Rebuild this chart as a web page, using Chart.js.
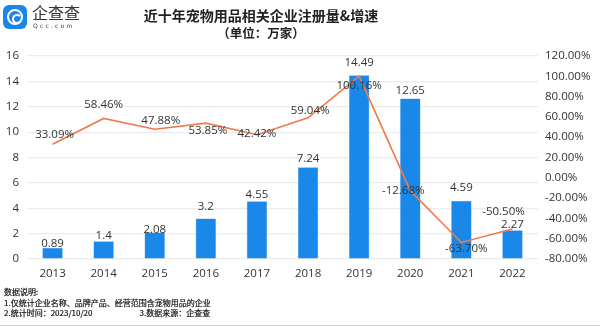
<!DOCTYPE html>
<html lang="zh-CN">
<head>
    <meta charset="UTF-8">
    <title>近十年宠物用品相关企业注册量&增速</title>
    <script src="https://cdn.jsdelivr.net/npm/chart.js"></script>
    <style>
        body {
            margin: 0;
            background: #ffffff;
            font-family: "Noto Sans CJK SC", "Noto Sans", sans-serif;
        }
        .wrap {
            position: relative;
            width: 600px;
            height: 328px;
            overflow: hidden;
        }
        canvas {
            position: absolute;
            left: 0;
            top: 0;
        }
        .logo-icon {
            position: absolute;
            left: 3px;
            top: 5px;
            width: 24px;
            height: 24px;
            border-radius: 6px;
            background: #1a86ec;
        }
        .logo-icon .ring {
            position: absolute;
            left: 4px;
            top: 4px;
            width: 12px;
            height: 12px;
            border: 2.5px solid #fff;
            border-radius: 50%;
        }
        .logo-icon .dot {
            position: absolute;
            left: 9px;
            top: 9px;
            width: 6px;
            height: 6px;
            border: 2px solid #fff;
            border-right-color: transparent;
            border-radius: 50%;
        }
        .logo-name {
            position: absolute;
            left: 32px;
            top: 3px;
            font-size: 16px;
            line-height: 18px;
            color: #333;
        }
        .logo-url {
            position: absolute;
            left: 33px;
            top: 22px;
            font-family: "DejaVu Sans", sans-serif;
            font-size: 6px;
            line-height: 7px;
            color: #444;
            letter-spacing: 2.2px;
        }
        .title {
            position: absolute;
            left: 0;
            width: 522px;
            text-align: center;
            color: #222;
            font-weight: bold;
        }
        .t1 { top: 5px; font-size: 14px; }
        .t2 { top: 23px; font-size: 12.5px; }
        .note {
            position: absolute;
            left: 4px;
            top: 287px;
            font-size: 8px;
            line-height: 10.5px;
            color: #111;
            -webkit-text-stroke: 0.2px #111;
        }
        .bottom-line {
            position: absolute;
            left: 0;
            top: 325px;
            width: 600px;
            height: 1px;
            background: #cfcfcf;
        }
    </style>
</head>
<body>
<div class="wrap">
    <canvas id="chart" width="600" height="328"></canvas>
    <div class="logo-icon"><div class="ring"></div><div class="dot"></div></div>
    <div class="logo-name">企查查</div>
    <div class="logo-url">Qcc.com</div>
    <div class="title t1">近十年宠物用品相关企业注册量&amp;增速</div>
    <div class="title t2">（单位：万家）</div>
    <div class="note">
        数据说明:<br>
        1.仅统计企业名称、品牌产品、经营范围含宠物用品的企业<br>
        2.统计时间：2023/10/20<span style="display:inline-block;width:47px"></span>3.数据来源：企查查
    </div>
    <div class="bottom-line"></div>
</div>

<script>
    // 数据
    const years = ['2013', '2014', '2015', '2016', '2017', '2018', '2019', '2020', '2021', '2022'];
    const registrations = [0.89, 1.4, 2.08, 3.2, 4.55, 7.24, 14.49, 12.65, 4.59, 2.27]; // 万家
    const growthRates = [33.09, 58.46, 47.88, 53.85, 42.42, 59.04, 100.16, -12.68, -63.70, -50.50]; // %
    const leftTicks = [0, 2, 4, 6, 8, 10, 12, 14, 16];
    const rightTicks = [-80, -60, -40, -20, 0, 20, 40, 60, 80, 100, 120];

    // 标签偏移（只是样式）
    const barLabelShift = [-3, -5, -2, -11, -6, -7, -11, -7, -12, -4];
    const lineLabelShift = [[2, -9], [0, -14], [6, -8], [2, 8], [0, -1], [2, -7], [0, 10], [-7, 0], [5, 6], [-9, -17]];

    const labelPlugin = {
        id: 'valueLabels',
        afterDatasetsDraw(chart) {
            const ctx = chart.ctx;
            ctx.save();
            ctx.font = '11.5px "Open Sans", "Noto Sans", sans-serif';
            ctx.fillStyle = '#333';
            ctx.textAlign = 'center';
            ctx.textBaseline = 'middle';
            chart.getDatasetMeta(0).data.forEach((bar, i) => {
                ctx.fillText(String(registrations[i]), bar.x, bar.y + barLabelShift[i] - 1);
            });
            chart.getDatasetMeta(1).data.forEach((pt, i) => {
                const s = lineLabelShift[i];
                ctx.fillText(growthRates[i].toFixed(2) + '%', pt.x + s[0], pt.y + s[1]);
            });
            ctx.restore();
        }
    };

    const ctx = document.getElementById('chart').getContext('2d');
    new Chart(ctx, {
        data: {
            labels: years,
            datasets: [{
                type: 'bar',
                data: registrations,
                yAxisID: 'y',
                backgroundColor: '#1a88e8',
                borderColor: '#5aa8ee',
                borderWidth: 0.5,
                barPercentage: 0.8,
                categoryPercentage: 0.5,
                order: 2
            }, {
                type: 'line',
                data: growthRates,
                yAxisID: 'y1',
                borderColor: '#ee7b4c',
                borderWidth: 1.6,
                pointRadius: 0,
                tension: 0,
                order: 1
            }]
        },
        options: {
            responsive: false,
            animation: false,
            layout: { padding: { top: 56, bottom: 0, left: 0, right: 0 } },
            plugins: {
                legend: { display: false },
                tooltip: { enabled: false }
            },
            scales: {
                x: {
                    grid: { display: false, drawTicks: false },
                    border: { display: false },
                    ticks: {
                        padding: 8,
                        color: '#333',
                        font: { size: 11.5, family: '"Open Sans", "Noto Sans", sans-serif' }
                    },
                    afterFit(scale) { scale.height = 69; }
                },
                y: {
                    position: 'left',
                    min: 0,
                    max: 16,
                    afterBuildTicks(scale) { scale.ticks = leftTicks.map(v => ({ value: v })); },
                    grid: { color: '#ececec', lineWidth: 1.2, drawTicks: false },
                    border: { display: false },
                    ticks: {
                        padding: 8,
                        color: '#333',
                        font: { size: 11.5, family: '"Open Sans", "Noto Sans", sans-serif' }
                    },
                    afterFit(scale) { scale.width = 27; }
                },
                y1: {
                    position: 'right',
                    min: -80,
                    max: 120,
                    afterBuildTicks(scale) { scale.ticks = rightTicks.map(v => ({ value: v })); },
                    grid: { display: false, drawTicks: false },
                    border: { display: false },
                    ticks: {
                        padding: 7,
                        color: '#333',
                        font: { size: 11.5, family: '"Open Sans", "Noto Sans", sans-serif' },
                        callback: v => v.toFixed(2) + '%'
                    },
                    afterFit(scale) { scale.width = 62; }
                }
            }
        },
        plugins: [labelPlugin]
    });
</script>
</body>
</html>
